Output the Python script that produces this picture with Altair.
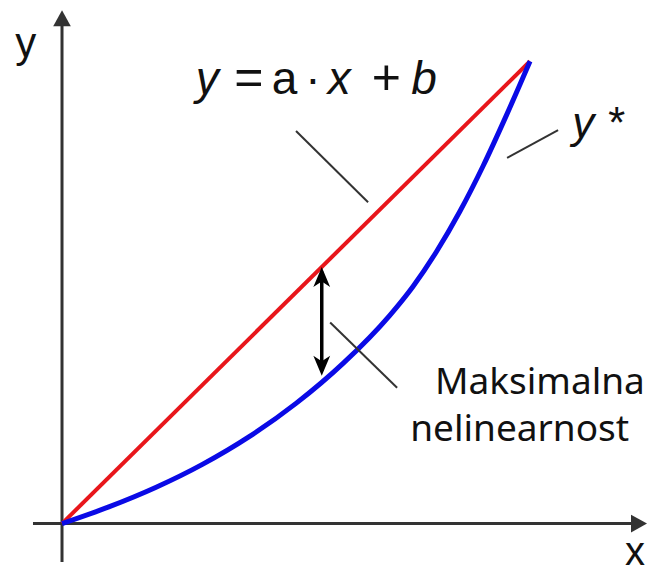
import altair as alt
import pandas as pd

# ---- data (in axis units; red line ends at (10, 10)) ----
curve_x = [0, 1, 2, 3, 4, 5, 6, 7, 7.5, 8, 8.5, 9, 9.5, 10]
curve_y = [0, 0.36, 0.78, 1.28, 1.88, 2.60, 3.46, 4.50, 5.13, 5.88, 6.75, 7.74, 8.84, 10]
line_x = [0, 10]
line_y = [0, 10]

gap_x = 5.55
gap_top = 5.55
gap_bottom = 3.2

labels = ["y", "y *", "x", "Maksimalna", "nelinearnost"]
eq_parts = ["y", "=", "a", "·", "x", "+", "b"]
eq_left = [2.86, 3.68, 4.48, 5.20, 5.68, 6.62, 7.46]
eq_italic = ["italic", "normal", "normal", "normal", "italic", "normal", "italic"]
eq_size = [46, 50, 46, 46, 46, 50, 46]

X_DOMAIN = [-1.154, 12.521]
Y_DOMAIN = [-0.917, 11.151]

xs = alt.Scale(domain=X_DOMAIN, nice=False, zero=False)
ys = alt.Scale(domain=Y_DOMAIN, nice=False, zero=False)

def X(f="x"):
    return alt.X(f + ":Q", scale=xs, axis=None)

def Y(f="y"):
    return alt.Y(f + ":Q", scale=ys, axis=None)

AX = "#333333"

# axes
axes_df = pd.DataFrame({"x": [-0.62, 0], "y": [0, -0.83], "x2": [12.2, 0], "y2": [0, 10.8]})
axes = alt.Chart(axes_df).mark_rule(color=AX, strokeWidth=3).encode(
    x=X(), y=Y(), x2="x2:Q", y2="y2:Q")

yhead = alt.Chart(pd.DataFrame({"x": [0], "y": [11.1]})).mark_point(
    shape="M0,0 L0.55,1 L-0.55,1 Z", size=1024, filled=True, color=AX, opacity=1, strokeWidth=0
).encode(x=X(), y=Y())
xhead = alt.Chart(pd.DataFrame({"x": [12.5], "y": [0]})).mark_point(
    shape="M0,0 L-1,0.55 L-1,-0.55 Z", size=1024, filled=True, color=AX, opacity=1, strokeWidth=0
).encode(x=X(), y=Y())

# red straight line
red = alt.Chart(pd.DataFrame({"x": line_x, "y": line_y})).mark_line(
    color="#e8161b", strokeWidth=4).encode(x=X(), y=Y())

# blue nonlinear curve
blue_df = pd.DataFrame({"x": curve_x, "y": curve_y, "i": range(len(curve_x))})
blue = alt.Chart(blue_df).mark_line(
    color="#0a0ae6", strokeWidth=5, interpolate="monotone").encode(
    x=X(), y=Y(), order="i:Q")

# leader lines
lead_df = pd.DataFrame({
    "x": [5.0, 9.51, 5.73],
    "y": [8.49, 7.91, 4.35],
    "x2": [6.54, 10.60, 7.16],
    "y2": [6.95, 8.51, 2.94],
})
leaders = alt.Chart(lead_df).mark_rule(color=AX, strokeWidth=2).encode(
    x=X(), y=Y(), x2="x2:Q", y2="y2:Q")

# double arrow for maximal nonlinearity
shaft = alt.Chart(pd.DataFrame({"x": [gap_x], "y": [gap_top - 0.1], "y2": [gap_bottom + 0.1]})).mark_rule(
    color="black", strokeWidth=3.5).encode(x=X(), y=Y(), y2="y2:Q")
head_up = alt.Chart(pd.DataFrame({"x": [gap_x], "y": [gap_top]})).mark_point(
    shape="M0,0 L0.42,1 L0,0.72 L-0.42,1 Z", size=1600, filled=True, color="black", opacity=1, strokeWidth=0
).encode(x=X(), y=Y())
head_dn = alt.Chart(pd.DataFrame({"x": [gap_x], "y": [gap_bottom]})).mark_point(
    shape="M0,0 L0.42,-1 L0,-0.72 L-0.42,-1 Z", size=1600, filled=True, color="black", opacity=1, strokeWidth=0
).encode(x=X(), y=Y())

# texts
def txt(label, x, y, size, font="Liberation Sans", style="normal"):
    return alt.Chart(pd.DataFrame({"x": [x], "y": [y], "t": [label]})).mark_text(
        align="left", baseline="alphabetic", fontSize=size, font=font, fontStyle=style,
        color="#111111").encode(x=X(), y=Y(), text="t:N")

eq = [txt(p, xl, 9.30, sz, style=st) for p, xl, st, sz in zip(eq_parts, eq_left, eq_italic, eq_size)]

texts = [
    txt(labels[0], -1.0, 10.1, 42),
    txt(labels[1], 10.9, 8.34, 44, style="italic"),
    txt(labels[2], 12.03, -0.9, 40),
    txt(labels[3], 7.97, 2.80, 37, font="Noto Sans"),
    txt(labels[4], 7.44, 1.78, 37, font="Noto Sans"),
]

chart = alt.layer(axes, yhead, xhead, red, blue, leaders, shaft, head_up, head_dn, *eq, *texts).properties(
    width=640, height=566, padding=0,
    autosize=alt.AutoSizeParams(type="fit", contains="padding"),
    background="white",
).configure_view(stroke=None)

chart.save("out.html", embed_options={"renderer": "svg", "actions": False})
